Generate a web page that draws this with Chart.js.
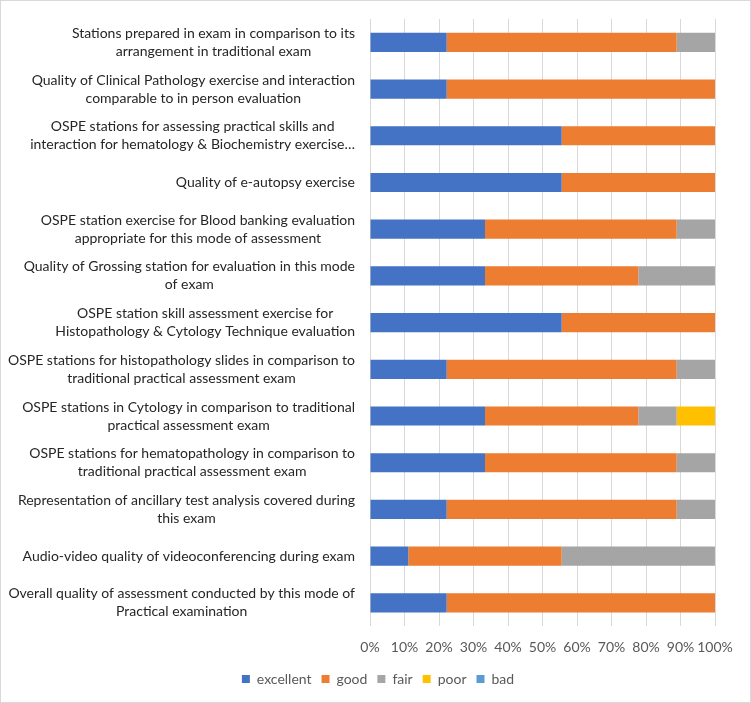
<!DOCTYPE html>
<html>
<head>
<meta charset="utf-8">
<script src="https://cdn.jsdelivr.net/npm/chart.js@4"></script>
<style>
  body { margin: 0; background: #fff; }
  #wrap { width: 751px; height: 703px; box-sizing: border-box; border: 1px solid #d9d9d9; }
</style>
</head>
<body>
<div id="wrap"><canvas id="myChart"></canvas></div>
<script>
var categories = [
  ["Stations prepared in exam in comparison to its", "arrangement in traditional exam"],
  ["Quality of Clinical Pathology exercise and interaction", "comparable to in person evaluation"],
  ["OSPE stations for assessing practical skills and", "interaction for hematology & Biochemistry exercise\u2026"],
  ["Quality of e-autopsy exercise"],
  ["OSPE station exercise for Blood banking evaluation", "appropriate for this mode of assessment"],
  ["Quality of Grossing station for evaluation in this mode", "of exam"],
  ["OSPE station skill assessment exercise for", "Histopathology & Cytology Technique evaluation"],
  ["OSPE stations for histopathology slides in comparison to", "traditional practical assessment exam"],
  ["OSPE stations in Cytology in comparison to traditional", "practical assessment exam"],
  ["OSPE stations for hematopathology in comparison to", "traditional practical assessment exam"],
  ["Representation of ancillary test analysis covered during", "this exam"],
  ["Audio-video quality of videoconferencing during exam"],
  ["Overall quality of assessment conducted by this mode of", "Practical examination"]
];

var excellent = [22.22, 22.22, 55.56, 55.56, 33.33, 33.33, 55.56, 22.22, 33.33, 33.33, 22.22, 11.11, 22.22];
var good      = [66.67, 77.78, 44.44, 44.44, 55.56, 44.44, 44.44, 66.67, 44.44, 55.56, 66.67, 44.44, 77.78];
var fair      = [11.11, 0, 0, 0, 11.11, 22.22, 0, 11.11, 11.11, 11.11, 11.11, 44.44, 0];
var poor      = [0, 0, 0, 0, 0, 0, 0, 0, 11.11, 0, 0, 0, 0];
var bad       = [0, 0, 0, 0, 0, 0, 0, 0, 0, 0, 0, 0, 0];

var xTicks = [0, 10, 20, 30, 40, 50, 60, 70, 80, 90, 100];

function ds(label, data, color) {
  return {
    label: label,
    data: data,
    backgroundColor: color,
    borderWidth: 0,
    barPercentage: 0.41,
    categoryPercentage: 1
  };
}

// Excel style category labels: block right aligned to the axis, lines centred in the block
var catLabels = {
  id: "catLabels",
  afterDraw: function (chart) {
    var scale = chart.scales.y;
    var c = chart.ctx;
    c.save();
    c.font = "14px Lato";
    c.fillStyle = "#262626";
    c.textAlign = "center";
    c.textBaseline = "middle";
    var right = scale.right - 15;
    categories.forEach(function (lines, i) {
      var w = 0;
      lines.forEach(function (l) { w = Math.max(w, c.measureText(l).width); });
      var cx = right - w / 2;
      var y0 = scale.getPixelForTick(i) - (lines.length - 1) * 9;
      lines.forEach(function (l, k) { c.fillText(l, cx, y0 + k * 18); });
    });
    c.restore();
  }
};

var ctx = document.getElementById("myChart").getContext("2d");
var myChart = new Chart(ctx, {
  type: "bar",
  data: {
    labels: categories,
    datasets: [
      ds("excellent", excellent, "#4472C4"),
      ds("good", good, "#ED7D31"),
      ds("fair", fair, "#A5A5A5"),
      ds("poor", poor, "#FFC000"),
      ds("bad", bad, "#5B9BD5")
    ]
  },
  plugins: [catLabels],
  options: {
    indexAxis: "y",
    responsive: true,
    maintainAspectRatio: false,
    animation: false,
    layout: { padding: { top: 18, right: 0, left: 5, bottom: 6 } },
    plugins: {
      tooltip: { enabled: false },
      legend: {
        position: "bottom",
        labels: {
          boxWidth: 8,
          boxHeight: 8,
          padding: 10,
          color: "#595959",
          font: { family: "Lato", size: 14 }
        }
      }
    },
    scales: {
      x: {
        stacked: true,
        min: 0,
        max: 100,
        afterBuildTicks: function (axis) {
          axis.ticks = xTicks.map(function (v) { return { value: v }; });
        },
        afterFit: function (axis) { axis.height = axis.height - 7; },
        grid: { color: "#d9d9d9", drawTicks: false },
        border: { display: false },
        ticks: {
          padding: 13,
          maxRotation: 0,
          autoSkip: false,
          color: "#595959",
          font: { family: "Lato", size: 14 },
          callback: function (v) { return v + "%"; }
        }
      },
      y: {
        stacked: true,
        grid: { display: false },
        border: { display: false },
        ticks: { display: false },
        afterFit: function (axis) { axis.width = 364; }
      },
      yRight: {
        position: "right",
        grid: { display: false },
        border: { display: false },
        ticks: { display: false },
        afterFit: function (axis) { axis.width = 35; }
      }
    }
  }
});
</script>
</body>
</html>
